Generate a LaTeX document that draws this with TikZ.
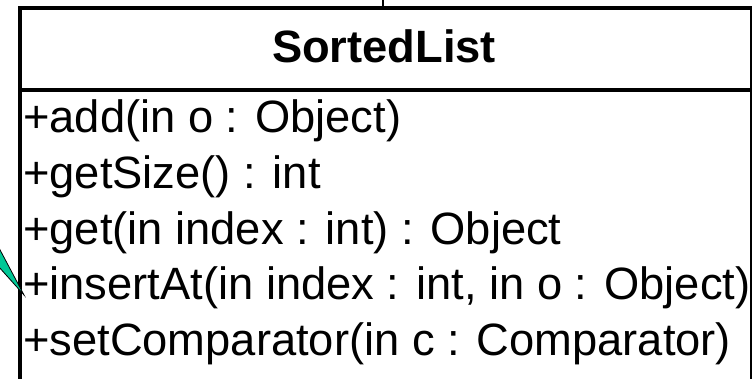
\documentclass[tikz,border=0pt]{standalone}
\usepackage{fontspec}
\usepackage{tikz}
\usetikzlibrary{positioning, calc}
\newfontfamily\umlfont{Liberation Sans}
\definecolor{noteGreen}{HTML}{00C896}

\begin{document}
\begin{tikzpicture}[
        x=1pt, y=1pt,
        font=\umlfont\fontsize{45.3pt}{52pt}\selectfont,
        classbox/.style={
          rectangle, draw=black, line width=4pt, fill=white,
          minimum width=732pt, minimum height=420pt, inner sep=0pt
        },
        method/.style={anchor=base west, inner sep=0pt, text=black},
        boxline/.style={draw=black, line width=4pt},
        assocEdge/.style={draw=black, line width=1.3pt},
        noteTip/.style={fill=noteGreen, draw=black, line width=0.8pt, line join=miter}
      ]
      \useasboundingbox (0,0) rectangle (752,378);
      \clip (0,0) rectangle (752,378);

      % --- CLASE ---
      \node[classbox, anchor=north west] (sortedlist) at (18,372) {};
      \node[anchor=base, inner sep=0pt] (title) at (384,315) {\bfseries SortedList};
      \draw[boxline] (sortedlist.west |- 0,288) -- (sortedlist.east |- 0,288);

      % --- OPERACIONES ---
      \node[method] (add) at (23,245) {+add(in o : Object)};
      \node[method] (getsize) at ([yshift=-55.5pt]add.base west) {+getSize() : int};
      \node[method] (get) at ([yshift=-55.5pt]getsize.base west) {+get(in index : int) : Object};
      \node[method] (insertat) at ([yshift=-55.5pt]get.base west) {+insertAt(in index : int, in o : Object)};
      \node[method] (setcomp) at ([yshift=-55.5pt]insertat.base west) {+setComparator(in c : Comparator)};

      % --- ASOCIACION ---
      \coordinate (assoc) at (383,378);
      \draw[assocEdge] (assoc) -- (assoc |- sortedlist.north);

      % --- NOTA ---
      \coordinate (tip) at (24,83);
      \draw[noteTip] (tip) -- (-10,147) -- (-10,121) -- cycle;

    \end{tikzpicture}
\end{document}
